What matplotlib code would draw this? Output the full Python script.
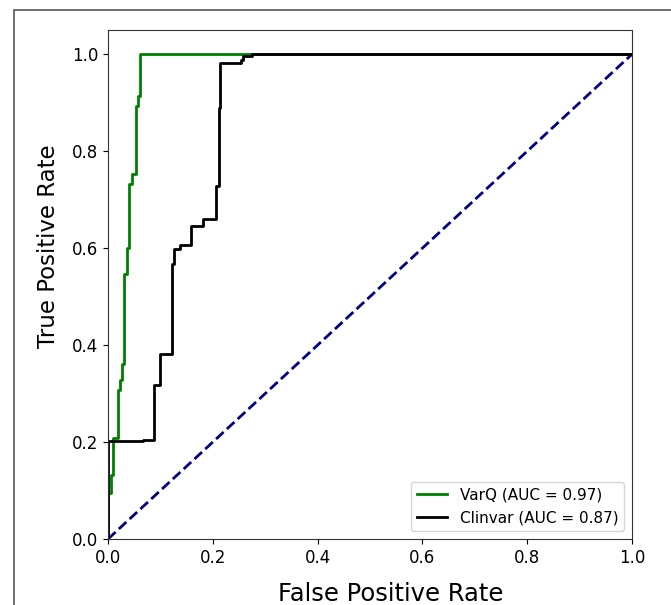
import matplotlib
matplotlib.use('Agg')
import matplotlib.pyplot as plt
from matplotlib.patches import Rectangle

# Curvas ROC
varq_fpr = [0.0, 0.0, 0.006, 0.006, 0.010, 0.010, 0.019, 0.019, 0.023, 0.023,
            0.027, 0.027, 0.031, 0.031, 0.037, 0.037, 0.041, 0.041, 0.045, 0.045,
            0.053, 0.053, 0.058, 0.058, 0.062, 0.062, 1.0]
varq_tpr = [0.0, 0.095, 0.095, 0.132, 0.132, 0.208, 0.208, 0.307, 0.307, 0.327,
            0.327, 0.362, 0.362, 0.547, 0.547, 0.600, 0.600, 0.732, 0.732, 0.753,
            0.753, 0.893, 0.893, 0.913, 0.913, 1.0, 1.0]

clin_fpr = [0.0, 0.0, 0.067, 0.067, 0.088, 0.088, 0.099, 0.099, 0.122, 0.122,
            0.125, 0.125, 0.137, 0.137, 0.158, 0.158, 0.182, 0.182, 0.207, 0.207,
            0.212, 0.212, 0.214, 0.214, 0.254, 0.254, 0.258, 0.258, 0.274, 0.274, 1.0]
clin_tpr = [0.0, 0.202, 0.202, 0.205, 0.205, 0.317, 0.317, 0.381, 0.381, 0.568,
            0.568, 0.599, 0.599, 0.607, 0.607, 0.646, 0.646, 0.660, 0.660, 0.728,
            0.728, 0.889, 0.889, 0.981, 0.981, 0.988, 0.988, 0.996, 0.996, 1.0, 1.0]

varq_auc = 0.97
clin_auc = 0.87

fig = plt.figure(figsize=(6.71, 6.05), dpi=100)
# marco gris alrededor de la figura
fig.patches.append(Rectangle((14 / 671, -0.1), 1.2, 1 - 10 / 605 + 0.1,
                             transform=fig.transFigure, fill=False,
                             edgecolor='#555555', linewidth=1.2))

ax = fig.add_axes([108 / 671, 1 - 539 / 605, 524 / 671, 509 / 605])

ax.plot([0, 1], [0, 1], color='navy', lw=2, linestyle='--')
ax.plot(varq_fpr, varq_tpr, color='green', lw=2,
        label='VarQ (AUC = %0.2f)' % varq_auc)
ax.plot(clin_fpr, clin_tpr, color='black', lw=2,
        label='Clinvar (AUC = %0.2f)' % clin_auc)

ax.set_xlim([0.0, 1.0])
ax.set_ylim([0.0, 1.05])
ax.set_xticks([0.0, 0.2, 0.4, 0.6, 0.8, 1.0])
ax.set_yticks([0.0, 0.2, 0.4, 0.6, 0.8, 1.0])
ax.tick_params(labelsize=12)
for s in ax.spines.values():
    s.set_color('#333333')
ax.set_xlabel('False Positive Rate', fontsize=17.5)
ax.set_ylabel('True Positive Rate', fontsize=16.5)
ax.xaxis.set_label_coords(0.54, -0.085)
ax.yaxis.set_label_coords(-0.092, 0.576)
ax.legend(loc='lower right', fontsize=11)

fig.savefig('out.png', dpi=100)
